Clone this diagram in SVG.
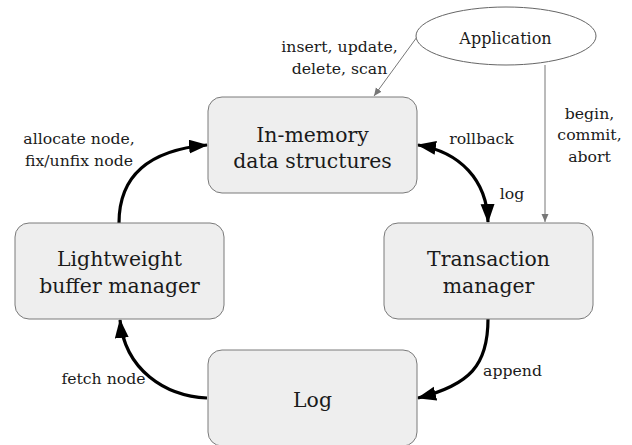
<svg xmlns="http://www.w3.org/2000/svg" width="632" height="445" viewBox="0 0 632 445">
  <style>
    .box { fill: #eeeeee; stroke: #7a7a7a; stroke-width: 1; }
    .ell { fill: #ffffff; stroke: #666666; stroke-width: 1; }
    .bt { font-family: "DejaVu Serif", "Liberation Serif", serif; font-size: 20.4px; fill: #1a1a1a; text-anchor: middle; }
    .lbl { font-family: "DejaVu Serif", "Liberation Serif", serif; font-size: 15.7px; fill: #1a1a1a; text-anchor: middle; }
    .thick { fill: none; stroke: #000000; stroke-width: 3.2; }
    .thin { fill: none; stroke: #777777; stroke-width: 1; }
  </style>
  <defs>
    <marker id="big" markerUnits="userSpaceOnUse" markerWidth="22" markerHeight="16" refX="18" refY="7" orient="auto-start-reverse" viewBox="0 0 22 16">
      <path d="M0,0 L19,7 L0,14 Z" fill="#000000"/>
    </marker>
    <marker id="small" markerUnits="userSpaceOnUse" markerWidth="10" markerHeight="8" refX="8" refY="3.5" orient="auto" viewBox="0 0 10 8">
      <path d="M0,0 L8,3.5 L0,7 Z" fill="#777777"/>
    </marker>
  </defs>

  <g id="connectors">
    <path class="thick" d="M119,223 C119,175 150,150 207,145" marker-end="url(#big)"/>
    <path class="thick" d="M418,145 C460,152 487,180 488,222" marker-start="url(#big)" marker-end="url(#big)"/>
    <path class="thick" d="M488,319 C488,365 470,385 418,398" marker-end="url(#big)"/>
    <path class="thick" d="M207,398 C165,396 125,370 120,320" marker-end="url(#big)"/>
    <path class="thin" d="M417,37 L374,96" marker-end="url(#small)"/>
    <path class="thin" d="M545,65 L545,222" marker-end="url(#small)"/>
    <text class="lbl" x="339.5" y="52">insert, update,</text>
    <text class="lbl" x="339.5" y="73.5">delete, scan</text>
    <text class="lbl" x="589.5" y="118.5">begin,</text>
    <text class="lbl" x="589.5" y="140">commit,</text>
    <text class="lbl" x="589.5" y="161.5">abort</text>
    <text class="lbl" x="481.5" y="143.5">rollback</text>
    <text class="lbl" x="512" y="199">log</text>
    <text class="lbl" x="79" y="143.5">allocate node,</text>
    <text class="lbl" x="79" y="166">fix/unfix node</text>
    <text class="lbl" x="512.5" y="375.5">append</text>
    <text class="lbl" x="103.5" y="384">fetch node</text>
  </g>

  <g id="application">
    <ellipse class="ell" cx="506" cy="36" rx="90" ry="29"/>
    <text class="lbl" x="505.5" y="43.5" style="font-size:16px">Application</text>
  </g>

  <g id="in-memory">
    <rect class="box" x="208" y="97" width="209" height="96" rx="14" ry="14"/>
    <text class="bt" x="312.5" y="141.7">In-memory</text>
    <text class="bt" x="312.5" y="168.3">data structures</text>
  </g>

  <g id="transaction-manager">
    <rect class="box" x="384" y="223" width="209" height="96" rx="14" ry="14"/>
    <text class="bt" x="488.5" y="266">Transaction</text>
    <text class="bt" x="488.5" y="293">manager</text>
  </g>

  <g id="lightweight-buffer-manager">
    <rect class="box" x="15" y="223" width="209" height="96" rx="14" ry="14"/>
    <text class="bt" x="119.5" y="266">Lightweight</text>
    <text class="bt" x="119.5" y="293">buffer manager</text>
  </g>

  <g id="log">
    <rect class="box" x="208" y="350" width="209" height="96" rx="14" ry="14"/>
    <text class="bt" x="312.5" y="407">Log</text>
  </g>
</svg>
